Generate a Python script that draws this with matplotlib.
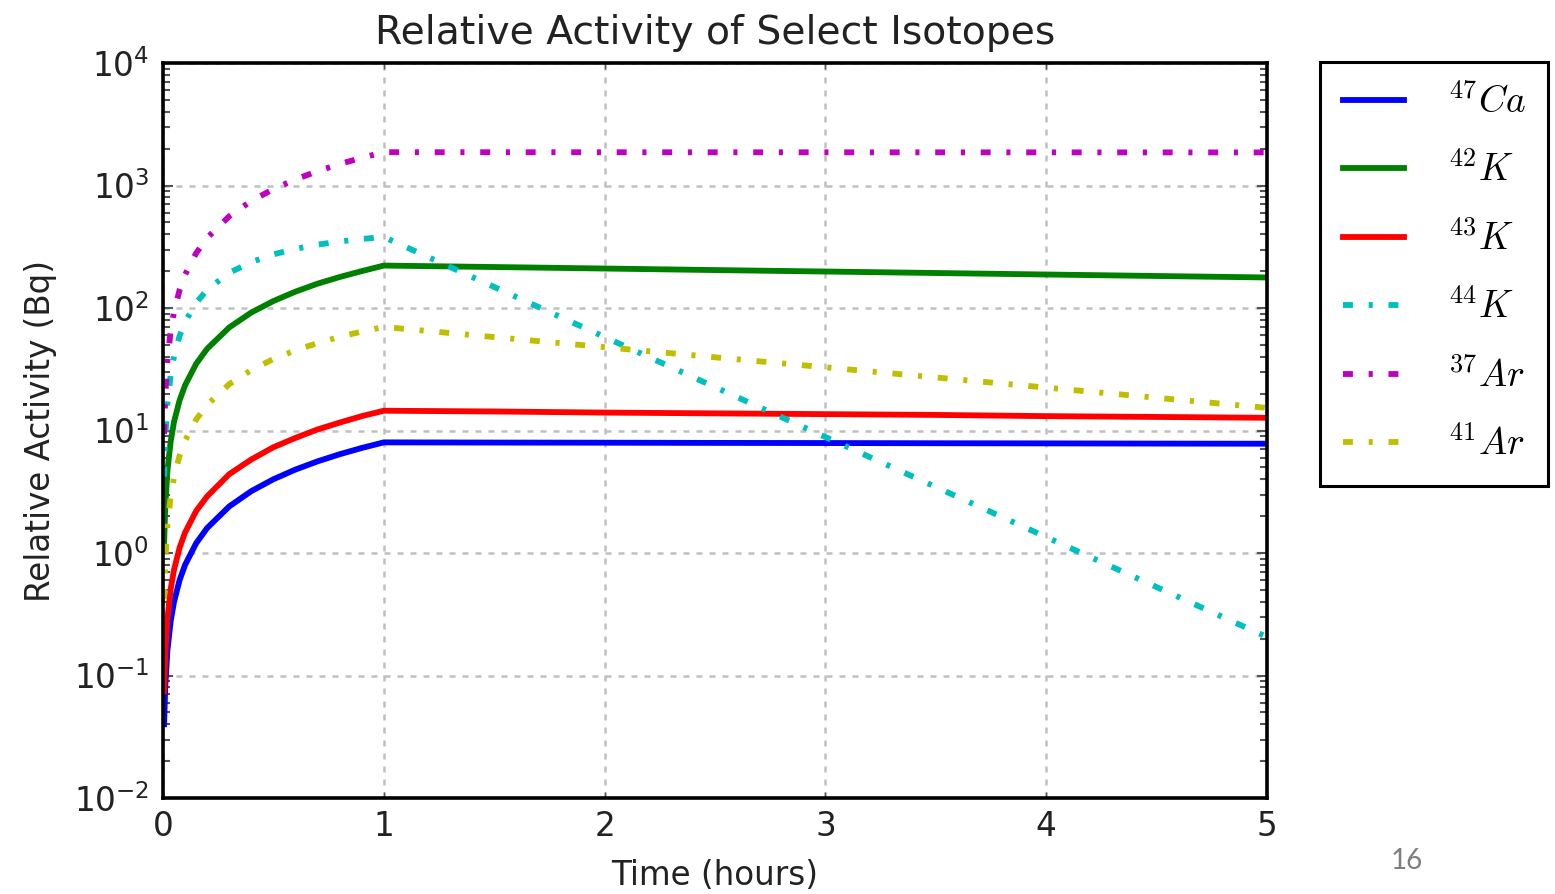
import matplotlib

matplotlib.use("Agg")
import matplotlib.pyplot as plt
from matplotlib.ticker import LogLocator, NullFormatter

# time in hours: irradiation for 1 h, then decay
time_h = [0.005, 0.01, 0.02, 0.035, 0.05, 0.075, 0.1, 0.15, 0.2, 0.3, 0.4, 0.5,
          0.6, 0.7, 0.8, 0.9, 1.0, 1.5, 2.0, 2.5, 3.0, 3.5, 4.0, 4.5, 5.0]

ca47 = [0.04, 0.08, 0.16, 0.28, 0.40, 0.60, 0.80, 1.2, 1.6, 2.4, 3.2, 4.0,
        4.8, 5.6, 6.4, 7.2, 8.0, 7.97, 7.95, 7.92, 7.9, 7.87, 7.85, 7.82, 7.8]
k42 = [1.18, 2.35, 4.7, 8.2, 11.8, 17.6, 23.4, 35.0, 46.5, 69.4, 91.9, 114,
       136, 158, 179, 200, 222, 216, 210, 204, 198.5, 193, 187.7, 182.5, 177.5]
k43 = [0.074, 0.147, 0.29, 0.51, 0.73, 1.10, 1.47, 2.2, 2.9, 4.4, 5.8, 7.3,
       8.7, 10.2, 11.6, 13.1, 14.5, 14.3, 14.0, 13.8, 13.6, 13.4, 13.1, 12.9, 12.7]
k44 = [4.2, 8.4, 16.6, 28.6, 40.3, 59.1, 77.0, 110, 141, 194, 237, 274,
       304, 329, 349, 366, 380, 148.5, 58.0, 22.6, 8.85, 3.46, 1.35, 0.527, 0.206]
ar37 = [9.35, 18.7, 37.4, 65.5, 93.5, 140, 187, 280, 374, 561, 748, 935,
        1122, 1309, 1496, 1683, 1870, 1869, 1868, 1867, 1866, 1865, 1864, 1863, 1862]
ar41 = [0.42, 0.84, 1.68, 2.93, 4.17, 6.22, 8.26, 12.3, 16.2, 23.9, 31.2, 38.3,
        45.1, 51.7, 58.1, 64.2, 70.0, 57.9, 47.9, 39.6, 32.8, 27.1, 22.4, 18.5, 15.3]

labels = [r"$^{47}Ca$", r"$^{42}K$", r"$^{43}K$", r"$^{44}K$", r"$^{37}Ar$", r"$^{41}Ar$"]
x_ticks = [0, 1, 2, 3, 4, 5]

W, H = 1555, 894


def main():
    plt.rcParams["font.family"] = ["DejaVu Sans"]
    plt.rcParams["mathtext.fontset"] = "cm"
    plt.rcParams["axes.unicode_minus"] = False

    fig = plt.figure(figsize=(W / 100, H / 100), dpi=100)
    ax = fig.add_axes([163 / W, 1 - 798 / H, (1267 - 163) / W, (798 - 63) / H])

    lw = 4.2
    dashdot = (0, (1.7, 2.7, 0.7, 2.7))
    series = [
        (ca47, "b", "-"),
        (k42, "g", "-"),
        (k43, "r", "-"),
        (k44, "c", dashdot),
        (ar37, "m", dashdot),
        (ar41, "y", dashdot),
    ]
    for (values, color, style), label in zip(series, labels):
        ax.plot(time_h, values, color=color, linestyle=style, linewidth=lw, label=label)

    ax.set_yscale("log")
    ax.set_xlim(0, 5)
    ax.set_ylim(1e-2, 1e4)
    ax.set_xticks(x_ticks)
    ax.yaxis.set_major_locator(LogLocator(base=10, numticks=10))
    ax.yaxis.set_minor_locator(LogLocator(base=10, subs=range(2, 10), numticks=20))
    ax.yaxis.set_minor_formatter(NullFormatter())

    ax.grid(True, which="major", color="#c0c0c0", linewidth=1.8,
            linestyle=(0, (2.4, 2.8)))
    for side in ax.spines.values():
        side.set_linewidth(2.6)

    ax.tick_params(axis="both", which="both", direction="in", top=True, right=True,
                   labelsize=23.5, colors="#555555", labelcolor="#222222")
    ax.tick_params(axis="y", which="major", length=7, width=1.5, pad=10)
    ax.tick_params(axis="y", which="minor", length=5, width=1.5)
    ax.tick_params(axis="x", which="major", length=4.5, width=1.0, pad=9)

    ax.set_title("Relative Activity of Select Isotopes", fontsize=28.4, pad=14,
                 color="#222222")
    ax.set_xlabel("Time (hours)", fontsize=23.5, labelpad=11, color="#222222")
    ax.set_ylabel("Relative Activity (Bq)", fontsize=23.5, labelpad=12, color="#222222")

    leg = ax.legend(loc="upper left", bbox_to_anchor=(1320 / W, 1 - 62 / H),
                    bbox_transform=fig.transFigure, borderaxespad=0,
                    fontsize=27, fancybox=False, framealpha=1, edgecolor="black",
                    handlelength=1.65, handletextpad=1.15, borderpad=0.6,
                    labelspacing=0.85)
    leg.get_frame().set_linewidth(2.2)

    fig.text(1407 / W, 1 - 861 / H, "16", fontsize=20, color="#7f7f7f",
             family="Lato", ha="center", va="center")

    fig.savefig("out.png", dpi=100)


if __name__ == "__main__":
    main()
